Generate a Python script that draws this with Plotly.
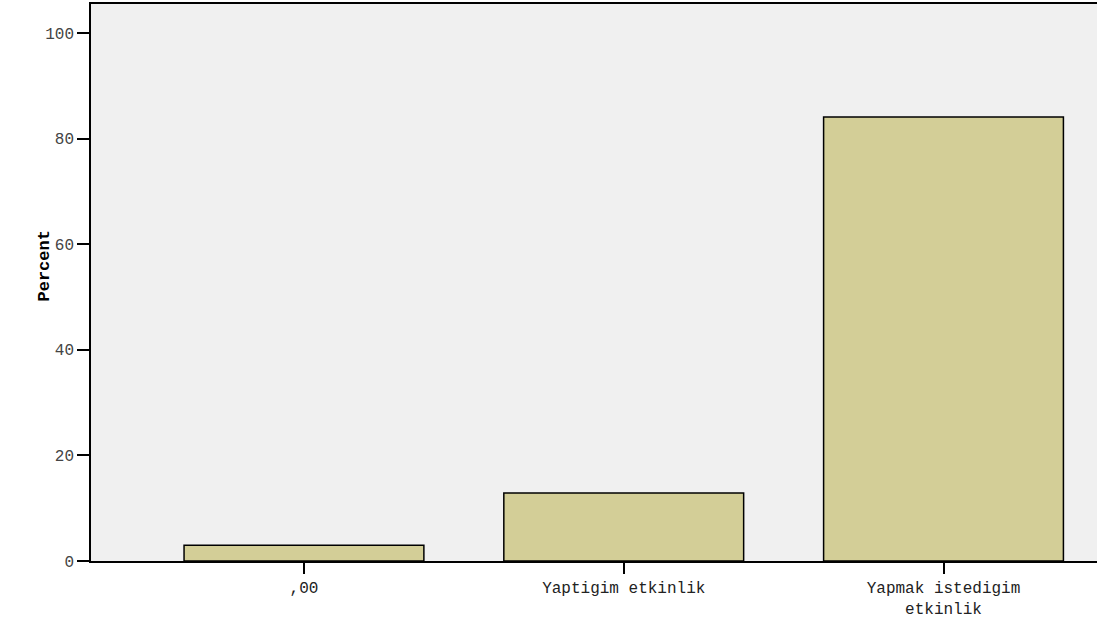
import plotly.graph_objects as go

# Data
categories = [",00", "Yaptigim etkinlik", "Yapmak istedigim<br>etkinlik"]
percent = [3.0, 12.9, 84.1]
y_ticks = [0, 20, 40, 60, 80, 100]

BAR_FILL = "rgb(211,206,151)"
PLOT_BG = "rgb(240,240,240)"
MONO = "Liberation Mono, Courier New, monospace"

fig = go.Figure()

fig.add_trace(go.Bar(
    x=list(range(len(categories))),
    y=percent,
    width=0.75,
    marker=dict(color=BAR_FILL, line=dict(color="black", width=1.5)),
    showlegend=False,
    hoverinfo="y"
))

fig.update_layout(
    width=1102, height=619,
    margin=dict(l=91, r=5, t=4, b=58),
    paper_bgcolor="white",
    plot_bgcolor=PLOT_BG,
    font=dict(family=MONO, size=15, color="#333333"),
)

fig.update_xaxes(
    tickmode="array",
    tickvals=list(range(len(categories))),
    ticktext=categories,
    range=[-0.666, 2.48],
    showline=True, linecolor="black", linewidth=1.5,
    mirror=True,
    ticks="outside", ticklen=11, tickwidth=2, tickcolor="black",
    showgrid=False, zeroline=False,
    tickfont=dict(family=MONO, size=16, color="#222222"),
    automargin=False,
)

fig.update_yaxes(
    range=[0, 105.5],
    tickmode="array",
    tickvals=y_ticks,
    showline=True, linecolor="black", linewidth=1.5,
    ticks="outside", ticklen=12, tickwidth=2, tickcolor="black",
    showgrid=False, zeroline=False,
    tickfont=dict(family=MONO, size=16, color="#444444"),
    automargin=False,
)

# axis title placed by hand so it can sit close to the short tick labels
fig.add_annotation(
    text="<b>Percent</b>",
    xref="paper", yref="paper",
    x=-0.046, y=0.53,
    xanchor="center", yanchor="middle",
    textangle=-90, showarrow=False,
    font=dict(family=MONO, size=17, color="black"),
)

fig.write_html("out.html", config={"displayModeBar": False},
               post_script="document.body.style.margin='0';")
